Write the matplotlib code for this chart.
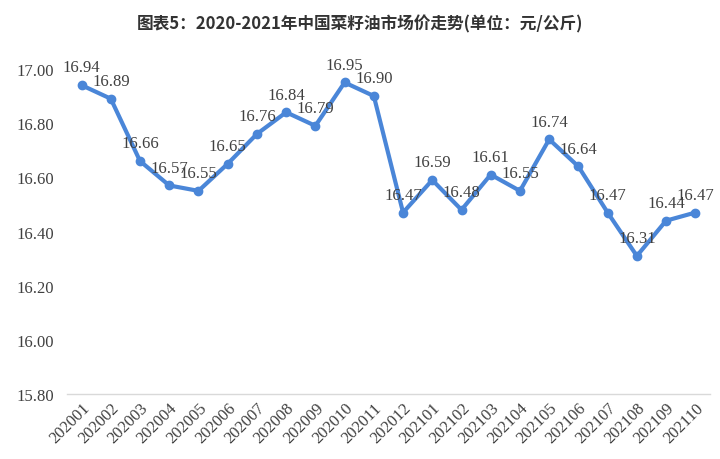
import matplotlib
matplotlib.use("Agg")
import matplotlib.pyplot as plt

# data
months = ['202001', '202002', '202003', '202004', '202005', '202006',
          '202007', '202008', '202009', '202010', '202011', '202012',
          '202101', '202102', '202103', '202104', '202105', '202106',
          '202107', '202108', '202109', '202110']
prices = [16.94, 16.89, 16.66, 16.57, 16.55, 16.65, 16.76, 16.84, 16.79,
          16.95, 16.90, 16.47, 16.59, 16.48, 16.61, 16.55, 16.74, 16.64,
          16.47, 16.31, 16.44, 16.47]
yticks = [15.80, 16.00, 16.20, 16.40, 16.60, 16.80, 17.00]

title = '图表5：2020-2021年中国菜籽油市场价走势(单位：元/公斤)'

serif = ['Liberation Serif', 'DejaVu Serif']
line_color = '#4a86d8'
text_color = '#404040'

fig = plt.figure(figsize=(7.2, 4.6), dpi=100)
ax = fig.add_axes([0.093, 0.141, 0.893, 0.707])

x = list(range(len(months)))
ax.plot(x, prices, color=line_color, lw=3.0, marker='o', ms=6,
        solid_joinstyle='round', zorder=3)

# value labels above each point
for xi, v in zip(x, prices):
    ax.annotate(f'{v:.2f}', (xi, v), xytext=(0, 7), textcoords='offset points',
                ha='center', va='bottom', fontsize=12, family=serif,
                color=text_color, annotation_clip=False)

ax.set_xlim(-0.5, len(months) - 0.5)
ax.set_ylim(15.80, 17.00)
ax.set_yticks(yticks)
ax.set_yticklabels([f'{t:.2f}' for t in yticks], family=serif, fontsize=12,
                   color=text_color)
ax.set_xticks(x)
ax.set_xticklabels(months, rotation=45, ha='right', rotation_mode='anchor',
                   family=serif, fontsize=12, color=text_color)
ax.tick_params(axis='both', length=0)
ax.tick_params(axis='y', pad=9)
ax.tick_params(axis='x', pad=4)

for side in ['top', 'right', 'left']:
    ax.spines[side].set_visible(False)
ax.spines['bottom'].set_color('#d9d9d9')
ax.spines['bottom'].set_linewidth(1.0)

fig.text(0.5, 0.948, title, ha='center', va='center', fontsize=12,
         fontweight='bold', color='#333333',
         family=['Noto Sans CJK SC', 'DejaVu Sans'])

fig.savefig('out.png', dpi=100)
